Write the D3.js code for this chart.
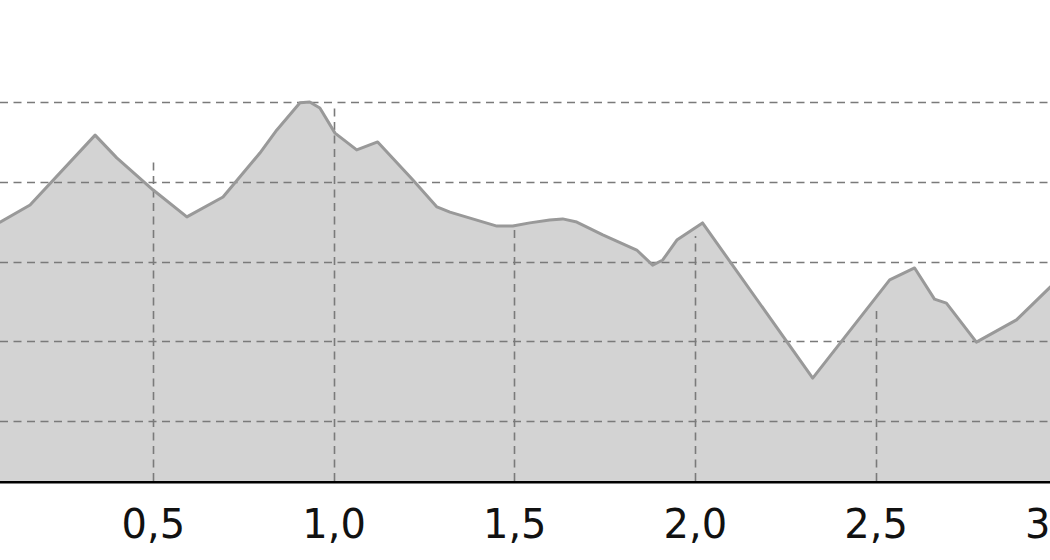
<!DOCTYPE html>
<html>
<head>
<meta charset="utf-8">
<script src="https://cdn.jsdelivr.net/npm/d3@7"></script>
<style>
  html, body { margin: 0; padding: 0; background: #fff; }
  svg { display: block; }
</style>
</head>
<body>
<svg id="chart" width="1050" height="560"></svg>
<script>
// ---- data (distance in km, elevation in arbitrary units) ----
const distance = [0.000, 0.077, 0.160, 0.340, 0.400, 0.500, 0.594, 0.694, 0.796, 0.843,
                  0.907, 0.934, 0.962, 1.004, 1.064, 1.122, 1.219, 1.286, 1.322, 1.452,
                  1.496, 1.543, 1.598, 1.634, 1.673, 1.745, 1.839, 1.883, 1.911, 1.950,
                  2.021, 2.326, 2.539, 2.608, 2.663, 2.696, 2.779, 2.890, 2.981, 3.010];
const elevation = [65.9, 69.9, 74.2, 91.7, 86.0, 78.0, 71.2, 76.2, 87.2, 93.0,
                   99.8, 100.0, 98.5, 92.2, 88.0, 90.0, 80.5, 73.7, 72.4, 68.9,
                   68.9, 69.7, 70.4, 70.7, 69.9, 66.7, 62.9, 59.1, 60.4, 65.4,
                   69.7, 30.8, 55.4, 58.4, 50.6, 49.6, 39.8, 45.4, 53.4, 56.0];
const xTicks = [0.5, 1.0, 1.5, 2.0, 2.5, 3.0];
const xTickLabels = ["0,5", "1,0", "1,5", "2,0", "2,5", "3,0"];
const vGridTop = [85.2, 98.8, 68.7, 66.4, 47.9, 56.0];
const yGrid = [20, 40, 60, 80, 100];

// ---- layout ----
const W = 1050, H = 560;
const svg = d3.select("#chart");
const x = d3.scaleLinear().domain([0, 3]).range([-27.75, 1056.25]);
const y = d3.scaleLinear().domain([5, 100]).range([481, 102]);
const pts = distance.map((d, i) => [d, elevation[i]]);

// area fill
svg.append("path")
  .datum(pts)
  .attr("fill", "#d3d3d3")
  .attr("d", d3.area().x(d => x(d[0])).y0(y(5)).y1(d => y(d[1])));

// horizontal grid
svg.append("g").selectAll("line").data(yGrid).join("line")
  .attr("x1", 0).attr("x2", W)
  .attr("y1", d => Math.round(y(d)) + 0.5).attr("y2", d => Math.round(y(d)) + 0.5)
  .attr("stroke", "#7a7a7a").attr("stroke-width", 1.6)
  .attr("stroke-dasharray", "8,5.5");

// vertical grid (drop lines)
svg.append("g").selectAll("line").data(xTicks).join("line")
  .attr("x1", d => Math.round(x(d)) + 0.5).attr("x2", d => Math.round(x(d)) + 0.5)
  .attr("y1", y(5)).attr("y2", (d, i) => y(vGridTop[i]))
  .attr("stroke", "#7a7a7a").attr("stroke-width", 1.6)
  .attr("stroke-dasharray", "8,5.5");

// profile line
svg.append("path")
  .datum(pts)
  .attr("fill", "none")
  .attr("stroke", "#999999")
  .attr("stroke-width", 3)
  .attr("stroke-linejoin", "round")
  .attr("d", d3.line().x(d => x(d[0])).y(d => y(d[1])));

// x axis
const axis = d3.axisBottom(x)
  .tickValues(xTicks)
  .tickSize(0)
  .tickPadding(28)
  .tickFormat((d, i) => xTickLabels[i]);
const gAxis = svg.append("g").attr("transform", `translate(0,${y(5) + 1})`).call(axis);
gAxis.select(".domain").remove();
gAxis.selectAll("text")
  .attr("font-family", "DejaVu Sans")
  .attr("font-size", 40)
  .attr("fill", "#111");

svg.append("line")
  .attr("x1", 0).attr("x2", W)
  .attr("y1", y(5) + 1.2).attr("y2", y(5) + 1.2)
  .attr("stroke", "#000").attr("stroke-width", 2.4);
</script>
</body>
</html>
